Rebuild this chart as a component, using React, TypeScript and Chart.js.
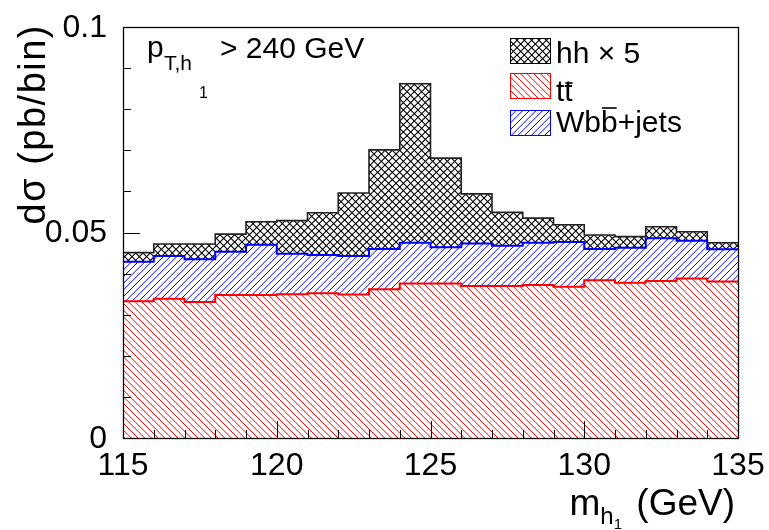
import React, { useEffect, useRef } from "react";
import { Chart, registerables } from "chart.js";

Chart.register(...registerables);

// ---- data ----
const binEdges = [115, 116, 117, 118, 119, 120, 121, 122, 123, 124, 125, 126, 127, 128, 129, 130, 131, 132, 133, 134, 135];
const ttbar = [0.0333, 0.0339, 0.0331, 0.0348, 0.0348, 0.035, 0.0352, 0.0349, 0.0362, 0.0376, 0.0376, 0.037, 0.037, 0.0372, 0.0368, 0.0384, 0.0378, 0.0382, 0.0388, 0.0381];
const wbbJets = [0.0096, 0.0104, 0.0104, 0.0105, 0.0122, 0.0098, 0.0093, 0.0094, 0.0098, 0.0099, 0.0088, 0.0103, 0.0098, 0.0103, 0.0109, 0.0076, 0.0085, 0.0104, 0.0092, 0.0078];
const hhTimes5 = [0.0022, 0.0029, 0.0037, 0.0043, 0.0056, 0.0081, 0.0103, 0.0153, 0.0241, 0.0387, 0.0217, 0.0121, 0.0081, 0.006, 0.0042, 0.0034, 0.0027, 0.0028, 0.0022, 0.0016];

const xTickValues = [115, 120, 125, 130, 135];
const xTickLabels = ["115", "120", "125", "130", "135"];
const yTickValues = [0, 0.05, 0.1];
const yTickLabels = ["0", "0.05", "0.1"];
const legendLabels = ["hh × 5", "tt", "Wbb+jets"];

const FONT = '"Liberation Sans", Arial, Helvetica, sans-serif';

function makeHatch(color: string, dirs: string[], tile: number, n: number, lw: number) {
  const c = document.createElement("canvas");
  c.width = tile;
  c.height = tile;
  const g = c.getContext("2d")!;
  g.strokeStyle = color;
  g.lineWidth = lw;
  const t = tile;
  for (const d of dirs) {
    for (let k = -2 * n; k <= 3 * n; k++) {
      const c0 = (k * t) / n;
      g.beginPath();
      if (d === "/") {
        g.moveTo(c0 + 2 * t, -2 * t);
        g.lineTo(c0 - 2 * t, 2 * t);
      } else {
        g.moveTo(-2 * t, -2 * t + c0);
        g.lineTo(2 * t, 2 * t + c0);
      }
      g.stroke();
    }
  }
  return g.createPattern(c, "repeat")!;
}

function toSteps(values: number[]) {
  return binEdges.map((x, i) => ({ x, y: values[Math.min(i, values.length - 1)] }));
}

export default function App() {
  const ref = useRef<HTMLCanvasElement>(null);

  useEffect(() => {
    const redPat = makeHatch("#ff0000", ["\\"], 20, 3, 1);
    const bluePat = makeHatch("#0000ff", ["/"], 20, 3, 1);
    const crossPat = makeHatch("#000000", ["/", "\\"], 22, 3, 1.1);

    const decor = {
      id: "rootDecor",
      afterDraw(chart: any) {
        const { ctx, chartArea: a, scales } = chart;
        const x = scales.x;
        const y = scales.y;
        ctx.save();
        ctx.strokeStyle = "#000";
        ctx.fillStyle = "#000";
        // frame
        ctx.lineWidth = 1.3;
        ctx.strokeRect(a.left + 0.5, a.top + 0.5, a.right - a.left, a.bottom - a.top);
        // y ticks
        ctx.lineWidth = 1;
        for (let i = 0; i <= 10; i++) {
          const py = Math.round(y.getPixelForValue(i / 100)) + 0.5;
          const len = i % 5 === 0 ? 17 : 8;
          ctx.beginPath();
          ctx.moveTo(a.left, py);
          ctx.lineTo(a.left + len, py);
          ctx.stroke();
        }
        // x ticks
        for (let v = 115; v <= 135; v++) {
          const px = Math.round(x.getPixelForValue(v)) + 0.5;
          const len = v % 5 === 0 ? 17 : 8;
          ctx.beginPath();
          ctx.moveTo(px, a.bottom);
          ctx.lineTo(px, a.bottom - len);
          ctx.stroke();
        }
        // tick labels
        ctx.font = `32px ${FONT}`;
        ctx.textAlign = "right";
        ctx.textBaseline = "middle";
        yTickValues.forEach((v, i) => ctx.fillText(yTickLabels[i], 107, y.getPixelForValue(v) + 1));
        ctx.textAlign = "center";
        ctx.textBaseline = "alphabetic";
        xTickValues.forEach((v, i) => ctx.fillText(xTickLabels[i], x.getPixelForValue(v), 475));

        // y title
        ctx.save();
        ctx.translate(45, 24);
        ctx.rotate(-Math.PI / 2);
        ctx.textAlign = "right";
        ctx.font = `38px ${FONT}`;
        (ctx as any).letterSpacing = "1.5px";
        ctx.fillText("dσ (pb/bin)", 0, 0);
        (ctx as any).letterSpacing = "0px";
        ctx.restore();

        // x title: m_{h_1} (GeV)
        ctx.textAlign = "left";
        const base = 515;
        ctx.font = `37px ${FONT}`;
        const wm = ctx.measureText("m").width;
        const wRest = ctx.measureText(" (GeV)").width;
        ctx.font = `24px ${FONT}`;
        const wh = ctx.measureText("h").width;
        ctx.font = `15px ${FONT}`;
        const w1 = ctx.measureText("1").width;
        let cx = 735 - (wm + wh + w1 + wRest) - 4;
        ctx.font = `37px ${FONT}`;
        ctx.fillText("m", cx, base);
        cx += wm;
        ctx.font = `24px ${FONT}`;
        ctx.fillText("h", cx, base + 9);
        cx += wh;
        ctx.font = `15px ${FONT}`;
        ctx.fillText("1", cx, base + 14);
        cx += w1 + 4;
        ctx.font = `37px ${FONT}`;
        ctx.fillText(" (GeV)", cx, base);

        // p_{T,h_1} > 240 GeV
        ctx.font = `30px ${FONT}`;
        ctx.fillText("p", 147, 57);
        ctx.font = `21px ${FONT}`;
        ctx.fillText("T,h", 164, 70);
        ctx.font = `16px ${FONT}`;
        ctx.fillText("1", 199, 98);
        ctx.font = `30px ${FONT}`;
        ctx.fillText("> 240 GeV", 220, 58);

        // legend
        const entries = [
          { pat: crossPat, border: "#000000", y0: 38, base: 63 },
          { pat: redPat, border: "#ff0000", y0: 73, base: 101 },
          { pat: bluePat, border: "#0000ff", y0: 110, base: 132 },
        ];
        entries.forEach((e, i) => {
          ctx.fillStyle = "#fff";
          ctx.fillRect(510, e.y0, 40, 25);
          ctx.fillStyle = e.pat;
          ctx.fillRect(510, e.y0, 40, 25);
          ctx.strokeStyle = e.border;
          ctx.lineWidth = 1;
          ctx.strokeRect(510.5, e.y0 + 0.5, 40, 25);
          ctx.fillStyle = "#000";
          ctx.font = `30px ${FONT}`;
          ctx.fillText(legendLabels[i], 556, e.base);
        });
        // bars over second t and second b
        ctx.font = `30px ${FONT}`;
        const wt = ctx.measureText("t").width;
        const wW = ctx.measureText("W").width;
        const wb = ctx.measureText("b").width;
        ctx.strokeStyle = "#000";
        ctx.lineWidth = 1.6;
        ctx.beginPath();
        ctx.moveTo(556 + wt + 1, 83);
        ctx.lineTo(556 + 2 * wt, 83);
        ctx.stroke();
        ctx.beginPath();
        ctx.moveTo(556 + wW + wb + 1, 108);
        ctx.lineTo(556 + wW + 2 * wb - 1, 108);
        ctx.stroke();
        ctx.restore();
      },
    };

    const chart = new Chart(ref.current!, {
      type: "line",
      data: {
        datasets: [
          {
            label: "tt",
            data: toSteps(ttbar),
            stepped: "before",
            borderColor: "#ff0000",
            borderWidth: 2,
            backgroundColor: redPat,
            fill: "origin",
            pointRadius: 0,
          },
          {
            label: "Wbb+jets",
            data: toSteps(wbbJets),
            stepped: "before",
            borderColor: "#0000ff",
            borderWidth: 2,
            backgroundColor: bluePat,
            fill: "-1",
            pointRadius: 0,
          },
          {
            label: "hh × 5",
            data: toSteps(hhTimes5),
            stepped: "before",
            borderColor: "#222222",
            borderWidth: 1.6,
            backgroundColor: crossPat,
            fill: "-1",
            pointRadius: 0,
          },
        ],
      } as any,
      options: {
        responsive: false,
        maintainAspectRatio: false,
        animation: false,
        layout: { padding: { left: 123, top: 27, right: 31, bottom: 92 } },
        plugins: { legend: { display: false }, tooltip: { enabled: false } },
        scales: {
          x: { type: "linear", min: 115, max: 135, display: false },
          y: { type: "linear", min: 0, max: 0.1, stacked: true, display: false },
        },
      } as any,
      plugins: [decor],
    });
    return () => chart.destroy();
  }, []);

  return (
    <div style={{ position: "fixed", left: 0, top: 0, width: 769, height: 530, background: "#fff" }}>
      <canvas ref={ref} width={769} height={530} style={{ display: "block", width: 769, height: 530 }} />
    </div>
  );
}
